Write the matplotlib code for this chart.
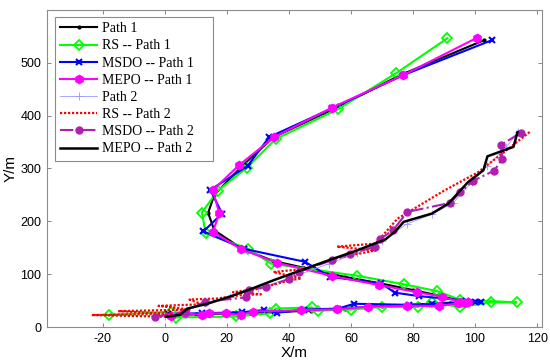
import matplotlib
matplotlib.use("Agg")
import matplotlib.pyplot as plt

plt.rcParams["axes.unicode_minus"] = False

# ---- Data ----
path1_x = [1, 10, 22, 35, 47, 58, 70, 82, 92, 100, 95, 88, 80, 70, 58, 45, 35, 25, 16, 14, 16, 25, 35, 55, 76, 103]
path1_y = [22, 24, 26, 28, 31, 35, 40, 43, 46, 48, 50, 60, 70, 82, 95, 112, 125, 148, 183, 216, 250, 305, 359, 414, 477, 543]

rs1_x = [-18, 2, 3.5, 23, 34, 36, 47.4, 49.5, 60, 70, 81.5, 86, 95, 105, 113.4, 95, 87.7, 77, 62, 34.2, 27, 13.2, 12, 17.1, 26.4, 35.8, 55.8, 74.5, 91.1]
rs1_y = [23, 29, 18, 20, 26, 35, 37, 31, 33, 38, 38, 47, 38, 46.6, 46.6, 52, 68, 81, 97, 120, 148, 177, 216.6, 258, 301, 356, 412, 480, 546.5]

msdo1_x = [1, 12, 25, 31.9, 36.3, 45, 56, 61, 78.6, 86, 100, 102, 97, 81.8, 74.2, 69.7, 53.3, 45.2, 25.5, 12.5, 18.5, 14.7, 26.7, 33.7, 54, 77, 105.5]
msdo1_y = [25, 26, 28, 32, 27, 33, 35, 44, 42, 43.4, 47, 47, 50, 58.6, 65, 82.5, 95, 123.4, 148, 181, 214.8, 259.5, 304.7, 359.5, 414, 477, 543]

mepo1_x = [2, 6.4, 12, 14.2, 19.8, 24.6, 28.3, 43.8, 55.4, 65.5, 78, 88.4, 94.6, 96.8, 97.8, 95.2, 89.3, 81.2, 69.1, 54, 36.1, 24.5, 15.5, 17.6, 15.5, 24.1, 35.3, 53.8, 76.8, 100.5]
mepo1_y = [21, 25.9, 22.7, 25.9, 25.9, 22.7, 29, 32, 33.4, 38.4, 40.3, 39.7, 44.7, 46, 46.6, 47.9, 57.3, 66, 79.3, 96.5, 121.8, 147.6, 180, 215, 259, 307, 359.5, 415, 476.6, 547]

path2_x = [0, 7, 13, 21, 30, 40, 53, 62, 70, 78, 86, 93, 99, 104, 110, 114]
path2_y = [20, 33, 45, 57, 73, 92, 120, 140, 162, 195, 213, 235, 275, 305, 340, 370]

rs2_x = [3, -23.5, 2, -15, 8, -2, 12, 8, 17, 24, 31, 22, 30, 40, 44, 35, 45, 55, 68, 55.5, 68, 75, 90, 101, 110, 117.6]
rs2_y = [19, 22.7, 25, 30, 33, 40, 43, 52, 54, 60, 62, 66, 72, 88, 92, 104, 110, 130, 145, 152, 158, 205, 258, 293, 334, 369]

msdo2_x = [-3.2, 6.4, 13, 26.2, 27.3, 32.6, 40.2, 43.3, 54, 59.7, 67.7, 69.3, 73.7, 78.2, 92, 95.2, 99.5, 106.2, 108.8, 108.3, 114.8]
msdo2_y = [19.5, 29, 48, 56, 70, 76, 91, 104.5, 126.6, 138, 151.7, 165.7, 184, 217.8, 235, 255, 277, 296, 318.6, 344.5, 367.7]

mepo2_x = [0.5, 4.8, 7.5, 13.4, 20.9, 28.3, 35.3, 53, 62, 71.1, 74.3, 77, 86.1, 91.4, 97.8, 102.7, 104, 112.4, 113.7]
mepo2_y = [19.5, 22.7, 35.3, 43.4, 57.3, 73, 89, 126.6, 145, 165.7, 181, 199, 214.7, 233.6, 274.5, 296.6, 323, 341, 369]

labels = ["Path 1", "RS -- Path 1", "MSDO -- Path 1", "MEPO -- Path 1",
          "Path 2", "RS -- Path 2", "MSDO -- Path 2", "MEPO -- Path 2"]
x_ticks = [-20, 0, 20, 40, 60, 80, 100, 120]
y_ticks = [0, 100, 200, 300, 400, 500]

# ---- Figure ----
fig = plt.figure(figsize=(5.5, 3.64), dpi=100)
ax = fig.add_axes([0.085, 0.1016, 0.9, 0.871])

ax.plot(path1_x, path1_y, color="black", lw=1.5, marker=".", ms=4, label=labels[0])
ax.plot(rs1_x, rs1_y, color="#00FF00", lw=1.5, marker="D", ms=5, mfc="none", mew=1.3, label=labels[1])
ax.plot(msdo1_x, msdo1_y, color="#0000FF", lw=1.5, marker="x", ms=5, mew=1.5, label=labels[2])
ax.plot(mepo1_x, mepo1_y, color="#FF00FF", lw=1.5, marker="h", ms=6, label=labels[3])
ax.plot(path2_x, path2_y, color="#9999FF", lw=0.6, marker="+", ms=6, mew=0.6, label=labels[4])
ax.plot(rs2_x, rs2_y, color="#FF0000", lw=1.6, ls=(0, (1, 0.8)), label=labels[5])
ax.plot(msdo2_x, msdo2_y, color="#B020B0", lw=1.5, ls="-.", marker="o", ms=5, label=labels[6])
ax.plot(mepo2_x, mepo2_y, color="black", lw=1.8, label=labels[7])

ax.set_xlim(-38, 121.5)
ax.set_ylim(0, 600)
ax.set_xticks(x_ticks)
ax.set_yticks(y_ticks)
ax.tick_params(direction="in", top=True, right=True, length=3, width=0.6,
               labelsize=9, color="0.45", pad=4)
for lab in ax.get_xticklabels() + ax.get_yticklabels():
    lab.set_fontfamily("Liberation Sans")
for sp in ax.spines.values():
    sp.set_color("0.55")
    sp.set_linewidth(0.8)

ax.set_xlabel("X/m", fontsize=11, family="Liberation Sans", labelpad=1)
ax.set_ylabel("Y/m", fontsize=11, family="Liberation Sans", labelpad=2)

leg = ax.legend(loc="upper left", bbox_to_anchor=(0.0167, 0.527, 0.319, 0.451),
                mode="expand", borderaxespad=0,
                prop={"family": "Liberation Serif", "size": 10},
                labelspacing=0.3, handlelength=2.66, handletextpad=0.36,
                borderpad=0.38, fancybox=False, framealpha=1,
                edgecolor="0.55")
leg.get_frame().set_linewidth(0.8)

fig.savefig("out.png", dpi=100)
